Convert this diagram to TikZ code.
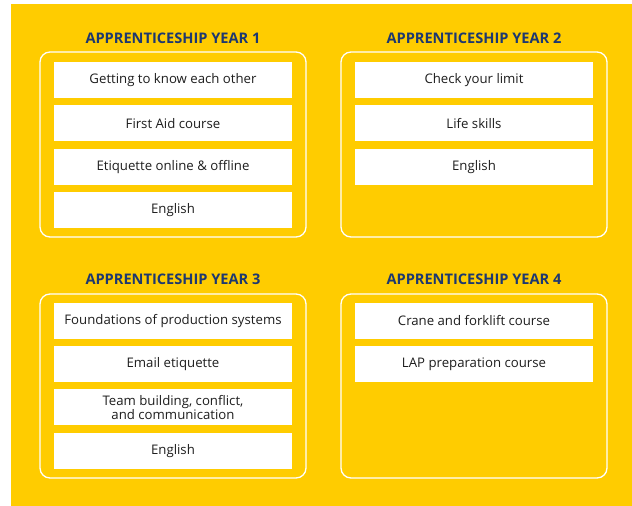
\documentclass[tikz,border=0pt]{standalone}
\usepackage{fontspec}
\setmainfont{Open Sans}
\definecolor{gelb}{HTML}{FFCC00}
\definecolor{navy}{HTML}{1D3870}
\definecolor{schrift}{HTML}{1E1E1E}

\begin{document}
\begin{tikzpicture}[x=1pt,y=-1pt,
		item/.style={fill=white,minimum width=238pt,minimum height=36pt,inner sep=0pt,align=center,text=schrift,font=\fontsize{13.2}{13.5}\selectfont},
		yearbox/.style={draw=white,line width=1.3pt,rounded corners=10pt,minimum width=266pt,minimum height=#1,inner sep=0pt},
		yearbox/.default=185pt,
		yeartitle/.style={text=navy,font=\fontsize{14.6}{15}\bfseries\selectfont}]
		
		\useasboundingbox (0,0) rectangle (632,506);
		\fill[gelb] (11,4) rectangle (632,506);
		
		%year 1
		\node[yeartitle] (title1) at (173,38) {APPRENTICESHIP YEAR 1};
		\node[yearbox] (year1) at (173,144.5) {};
		\foreach \i/\txt [evaluate=\i as \y using 80+43.3*(\i-1)] in {1/Getting to know each other,2/First Aid course,3/Etiquette online \& offline,4/English}
		{
			\node[item] (year1item\i) at (173,\y) {\txt};
		}
		
		%year 2
		\node[yeartitle] (title2) at (474,38) {APPRENTICESHIP YEAR 2};
		\node[yearbox] (year2) at (474,144.5) {};
		\foreach \i/\txt [evaluate=\i as \y using 80+43.3*(\i-1)] in {1/Check your limit,2/Life skills,3/English}
		{
			\node[item] (year2item\i) at (474,\y) {\txt};
		}
		
		%year 3
		\node[yeartitle] (title3) at (173,279) {APPRENTICESHIP YEAR 3};
		\node[yearbox=184pt] (year3) at (173,386) {};
		\foreach \i/\txt [evaluate=\i as \y using 321+43.2*(\i-1)] in {1/Foundations of production systems,2/Email etiquette,{3/Team building, conflict,\\and communication},4/English}
		{
			\node[item] (year3item\i) at (173,\y) {\txt};
		}
		
		%year 4
		\node[yeartitle] (title4) at (474,279) {APPRENTICESHIP YEAR 4};
		\node[yearbox=184pt] (year4) at (474,386) {};
		\foreach \i/\txt [evaluate=\i as \y using 321+43.2*(\i-1)] in {1/Crane and forklift course,2/LAP preparation course}
		{
			\node[item] (year4item\i) at (474,\y) {\txt};
		}
		
	\end{tikzpicture}
\end{document}
